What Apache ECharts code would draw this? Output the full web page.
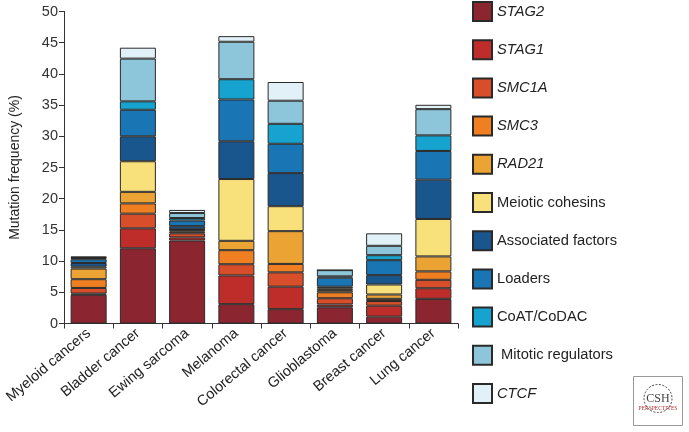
<!DOCTYPE html>
<html><head><meta charset="utf-8">
<script src="https://cdn.jsdelivr.net/npm/echarts@6/dist/echarts.min.js"></script>
<style>html,body{margin:0;padding:0;background:#fff}#c{width:689px;height:432px}</style>
</head><body><div id="c"></div>
<script>
const categories = ['Myeloid cancers','Bladder cancer','Ewing sarcoma','Melanoma','Colorectal cancer','Glioblastoma','Breast cancer','Lung cancer'];
const yTicks = [0,5,10,15,20,25,30,35,40,45,50];
const STAG2   = [4.6, 12.05, 13.3, 3.1, 2.3, 2.6, 1.1, 3.95];
const STAG1   = [0.2, 3.2, 0.5, 4.6, 3.6, 0.45, 1.75, 1.7];
const SMC1A   = [0.9, 2.35, 0.65, 1.8, 2.3, 1.0, 0.75, 1.35];
const SMC3    = [1.4, 1.65, 0.25, 2.25, 1.35, 0.95, 0.35, 1.35];
const RAD21   = [1.7, 1.85, 0.3, 1.5, 5.25, 0.35, 0.7, 2.4];
const meiotic = [0.3, 4.9, 0.1, 9.9, 4.0, 0.3, 1.6, 6.0];
const assoc   = [0.6, 4.0, 0.5, 6.05, 5.3, 0.25, 1.5, 6.3];
const loaders = [0.6, 4.25, 0.9, 6.7, 4.7, 1.45, 2.4, 4.6];
const coat    = [0.2, 1.35, 0.4, 3.25, 3.2, 0.2, 0.8, 2.5];
const mitotic = [0.1, 6.85, 0.8, 6.0, 3.7, 1.0, 1.5, 4.2];
const CTCF    = [0.1, 1.75, 0.5, 0.9, 3.0, 0, 2.0, 0.7];

const seriesNames = ['STAG2','STAG1','SMC1A','SMC3','RAD21','Meiotic cohesins','Associated factors','Loaders','CoAT/CoDAC',' Mitotic regulators','CTCF'];
const seriesData = [STAG2,STAG1,SMC1A,SMC3,RAD21,meiotic,assoc,loaders,coat,mitotic,CTCF];
const colors = ['#8B2630','#BE2D2A','#D94E2A','#F07F22','#EBA334','#F8E07A','#1A568E','#1A75B4','#16A3CF','#8DC6DA','#E2F1F8'];
const italicNames = new Set(['STAG2','STAG1','SMC1A','SMC3','RAD21','CTCF']);

const FONT = '"Liberation Sans", Arial, sans-serif';
const chart = echarts.init(document.getElementById('c'), null, {renderer:'canvas'});
chart.setOption({
  animation: false,
  textStyle: {fontFamily: FONT},
  grid: {left: 58, right: 231, top: 11.5, bottom: 108.5, containLabel: false},
  legend: {
    orient: 'vertical', left: 472, top: 1, height: 430, padding: 0,
    itemWidth: 19, itemHeight: 19, itemGap: 17.2,
    icon: 'rect',
    data: seriesNames,
    formatter: n => italicNames.has(n) ? '{i|' + n + '}' : '{n|' + n + '}',
    textStyle: {
      fontSize: 14.7, color: '#222', fontFamily: FONT, lineHeight: 19,
      rich: {
        i: {fontSize: 14.7, fontStyle: 'italic', color: '#222', fontFamily: FONT, lineHeight: 19},
        n: {fontSize: 14.7, color: '#222', fontFamily: FONT, lineHeight: 19}
      }
    }
  },
  xAxis: {
    type: 'category', data: categories,
    axisLine: {lineStyle: {color: '#333', width: 1}},
    axisTick: {show: true, length: 5, lineStyle: {color: '#333'}},
    axisLabel: {rotate: 40, fontSize: 14.5, color: '#222', margin: 8, interval: 0, fontFamily: FONT}
  },
  yAxis: {
    type: 'value', min: 0, max: 50, interval: 5,
    name: 'Mutation frequency (%)', nameLocation: 'middle', nameGap: 42,
    nameTextStyle: {fontSize: 14, color: '#222', fontFamily: FONT},
    splitLine: {show: false},
    axisLine: {show: true, lineStyle: {color: '#333', width: 1}},
    axisTick: {show: true, length: 5, lineStyle: {color: '#333'}},
    axisLabel: {fontSize: 14.5, color: '#333', margin: 6, fontFamily: FONT,
      formatter: v => yTicks.includes(v) ? String(v) : ''}
  },
  series: seriesNames.map((n, i) => ({
    name: n, type: 'bar', stack: 'total', barWidth: 36,
    data: seriesData[i],
    itemStyle: {color: colors[i], borderColor: '#2a2a2a', borderWidth: 1},
    emphasis: {disabled: true}
  })),
  graphic: [{
    type: 'group', left: 633, top: 376,
    children: [
      {type: 'rect', shape: {x: 0, y: 0, width: 49, height: 49}, style: {fill: '#fff', stroke: '#999', lineWidth: 1}},
      {type: 'circle', shape: {cx: 24.5, cy: 22, r: 14}, style: {fill: 'none', stroke: '#444', lineWidth: 1, lineDash: [2,1.5]}},
      {type: 'text', style: {text: 'CSH', x: 24.5, y: 16, fontSize: 12, fontFamily: '"Liberation Serif", serif', fill: '#444', align: 'center'}},
      {type: 'text', style: {text: 'PERSPECTIVES', x: 24.5, y: 29, fontSize: 5.5, fontFamily: '"Liberation Serif", serif', fill: '#a32a2e', align: 'center'}}
    ]
  }]
});
</script>
</body></html>
